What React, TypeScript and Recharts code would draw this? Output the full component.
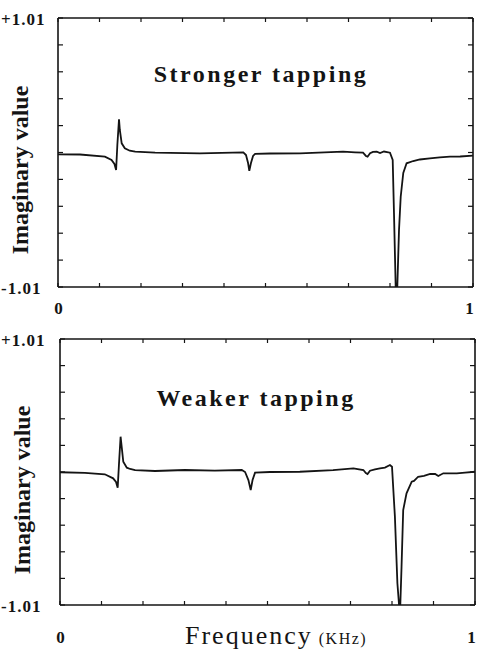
import React from 'react';
import { LineChart, Line, XAxis, YAxis } from 'recharts';

// Frequency axis ticks (fraction of 1 KHz) and imaginary-value ticks
const xTicks = [0, 0.1, 0.2, 0.3, 0.4, 0.5, 0.6, 0.7, 0.8, 0.9, 1];
const xTickLabels = ['0', '', '', '', '', '', '', '', '', '', '1'];
const yTicks = [-1.01, -0.808, -0.606, -0.404, -0.202, 0, 0.202, 0.404, 0.606, 0.808, 1.01];
const yTickLabels = ['-1.01', '', '', '', '', '', '', '', '', '', '+1.01'];

const titles = ['Stronger tapping', 'Weaker tapping'];
const yAxisTitle = 'Imaginary value';
const xAxisTitle = 'Frequency';
const xAxisUnit = '(KHz)';

// Stronger tapping
const strongFreq = [
  0, 0.053, 0.113, 0.129, 0.136, 0.14, 0.143, 0.147, 0.149, 0.1535, 0.161, 0.173, 0.186, 0.234,
  0.342, 0.4465, 0.453, 0.458, 0.461, 0.465, 0.47, 0.475, 0.511, 0.583, 0.687, 0.716, 0.735,
  0.742, 0.746, 0.752, 0.759, 0.768, 0.776, 0.7855, 0.8, 0.8065, 0.8096, 0.8137, 0.8176, 0.8217,
  0.8258, 0.832, 0.84, 0.856, 0.872, 0.896, 0.92, 0.9446, 0.969, 1,
];
const strongImag = [
  -0.0135, -0.015, -0.0315, -0.056, -0.086, -0.131, 0.056, 0.249, 0.169, 0.069, 0.032, 0.0135, 0.006, -0.0015,
  -0.006, 0.0015, -0.019, -0.079, -0.137, -0.079, -0.026, -0.011, -0.0075, -0.006, 0.006, 0.0015, -0.0015,
  -0.026, -0.0315, -0.006, 0.004, 0.006, -0.004, 0.0075, -0.0015, -0.056, -0.454, -1.01, -1.01, -0.582,
  -0.332, -0.154, -0.081, -0.064, -0.0525, -0.0435, -0.036, -0.0315, -0.03, -0.024,
];

// Weaker tapping
const weakFreq = [
  0, 0.06, 0.108, 0.128, 0.135, 0.139, 0.142, 0.146, 0.149, 0.1525, 0.161, 0.169, 0.181, 0.229,
  0.301, 0.373, 0.438, 0.446, 0.454, 0.4595, 0.464, 0.47, 0.506, 0.578, 0.658, 0.707, 0.731,
  0.737, 0.741, 0.747, 0.759, 0.771, 0.783, 0.795, 0.8, 0.807, 0.813, 0.817, 0.82, 0.823,
  0.827, 0.835, 0.8475, 0.853, 0.863, 0.877, 0.892, 0.904, 0.9115, 0.9236, 0.956, 0.976, 1,
];
const weakImag = [
  -0.002, -0.006, -0.0175, -0.048, -0.076, -0.119, 0.053, 0.268, 0.182, 0.078, 0.033, 0.023, 0.015, 0.0076,
  0.015, 0.011, 0.015, 0.0, -0.061, -0.137, -0.061, -0.005, 0.0, 0.002, 0.015, 0.028, 0.015,
  -0.008, -0.015, 0.01, 0.019, 0.028, 0.034, 0.053, 0.04, -0.339, -0.845, -1.01, -1.01, -0.719,
  -0.289, -0.162, -0.074, -0.068, -0.036, -0.03, -0.015, -0.015, -0.03, -0.01, -0.01, -0.004, 0.002,
];

const toRows = (f: number[], v: number[]) => f.map((x, i) => ({ f: x, v: v[i] }));
const strongData = toRows(strongFreq, strongImag);
const weakData = toRows(weakFreq, weakImag);

const INK = '#141414';
const SERIF = '"Liberation Serif", "DejaVu Serif", serif';
const tickTextStyle: React.CSSProperties = {
  fontFamily: SERIF,
  fontSize: '17px',
  fontWeight: 'bold',
  letterSpacing: '1px',
  fill: INK,
};

const makeYTick = () => (props: any) => {
  const { y, payload } = props;
  const idx = yTicks.indexOf(payload.value);
  const label = idx >= 0 ? yTickLabels[idx] : '';
  if (!label) return null;
  return (
    <g>
      <text x={1} y={y + 6.5} textAnchor="start" fontSize={17} style={tickTextStyle}>
        {label}
      </text>
    </g>
  );
};

const makeXTick = (baseline: number) => (props: any) => {
  const { x, payload } = props;
  const idx = xTicks.indexOf(payload.value);
  const label = idx >= 0 ? xTickLabels[idx] : '';
  if (!label) return null;
  return (
    <g>
      <text x={idx === 0 ? x + 1 : x - 3} y={baseline} textAnchor="middle" fontSize={17} style={tickTextStyle}>
        {label}
      </text>
    </g>
  );
};

const Empty = () => null;

type PanelProps = {
  data: { f: number; v: number }[];
  margin: { top: number; left: number; right: number; bottom: number };
  xLabelBaseline: number;
};

const Panel = ({ data, margin, xLabelBaseline }: PanelProps) => (
  <LineChart width={478} height={325} data={data} margin={margin}>
    <XAxis
      xAxisId="b"
      dataKey="f"
      type="number"
      domain={[0, 1]}
      ticks={xTicks}
      interval={0}
      orientation="bottom"
      mirror
      tickSize={4}
      axisLine={{ stroke: INK, strokeWidth: 1.6 }}
      tickLine={{ stroke: INK, strokeWidth: 1.2 }}
      tick={makeXTick(xLabelBaseline)}
      allowDataOverflow
    />
    <XAxis
      xAxisId="t"
      dataKey="f"
      type="number"
      domain={[0, 1]}
      ticks={xTicks}
      interval={0}
      orientation="top"
      mirror
      tickSize={4}
      axisLine={{ stroke: INK, strokeWidth: 1.6 }}
      tickLine={{ stroke: INK, strokeWidth: 1.2 }}
      tick={Empty}
      allowDataOverflow
    />
    <YAxis
      yAxisId="l"
      type="number"
      domain={[-1.01, 1.01]}
      ticks={yTicks}
      interval={0}
      orientation="left"
      mirror
      tickSize={5}
      axisLine={{ stroke: INK, strokeWidth: 1.6 }}
      tickLine={{ stroke: INK, strokeWidth: 1.2 }}
      tick={makeYTick()}
      allowDataOverflow
    />
    <YAxis
      yAxisId="r"
      type="number"
      domain={[-1.01, 1.01]}
      ticks={yTicks}
      interval={0}
      orientation="right"
      mirror
      tickSize={5}
      axisLine={{ stroke: INK, strokeWidth: 1.6 }}
      tickLine={{ stroke: INK, strokeWidth: 1.2 }}
      tick={Empty}
      allowDataOverflow
    />
    <Line
      xAxisId="b"
      yAxisId="l"
      dataKey="v"
      type="linear"
      stroke={INK}
      strokeWidth={1.8}
      dot={false}
      activeDot={false}
      isAnimationActive={false}
    />
  </LineChart>
);

export default function App() {
  return (
    <div style={{ position: 'absolute', left: 0, top: 0, width: 478, height: 650, background: '#fff' }}>
      <div style={{ position: 'absolute', left: 0, top: 0 }}>
        <Panel data={strongData} margin={{ top: 18, left: 58, right: 5, bottom: 38 }} xLabelBaseline={314} />
      </div>
      <div style={{ position: 'absolute', left: 0, top: 325 }}>
        <Panel data={weakData} margin={{ top: 14, left: 60, right: 3, bottom: 45 }} xLabelBaseline={318} />
      </div>
      <svg width={478} height={650} style={{ position: 'absolute', left: 0, top: 0, pointerEvents: 'none' }}>
        <text x={261} y={82} textAnchor="middle" fontFamily={SERIF} fontWeight="bold" fontSize={24} letterSpacing={2.5} fill={INK}>
          {titles[0]}
        </text>
        <text x={256} y={406} textAnchor="middle" fontFamily={SERIF} fontWeight="bold" fontSize={24} letterSpacing={2.5} fill={INK}>
          {titles[1]}
        </text>
        <text transform="translate(28,170) rotate(-90)" textAnchor="middle" fontFamily={SERIF} fontWeight="bold" fontSize={24} fill={INK}>
          {yAxisTitle}
        </text>
        <text transform="translate(30,490) rotate(-90)" textAnchor="middle" fontFamily={SERIF} fontWeight="bold" fontSize={24} fill={INK}>
          {yAxisTitle}
        </text>
        <text x={185} y={644} textAnchor="start" fontFamily={SERIF} fill={INK}>
          <tspan fontSize={26} letterSpacing={2}>{xAxisTitle}</tspan>
          <tspan fontSize={16} letterSpacing={1.5} dx={6}>{xAxisUnit}</tspan>
        </text>
      </svg>
    </div>
  );
}
